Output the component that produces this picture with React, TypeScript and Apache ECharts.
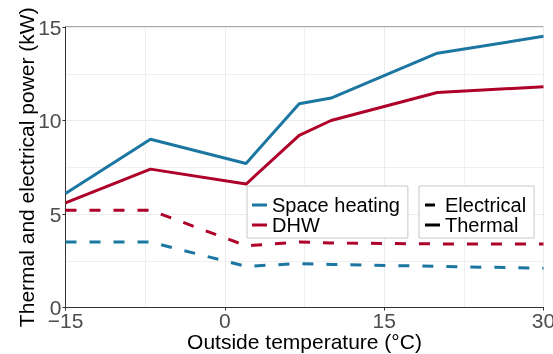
import React, { useEffect, useRef } from "react";
import * as echarts from "echarts";

// Outside temperature (°C) at which each operating point was evaluated
const temperatures = [-15, -7, 2, 7, 10, 20, 30];

// Thermal output (kW)
const spaceHeatingThermal = [6.1, 9.0, 7.7, 10.9, 11.2, 13.6, 14.5];
const dhwThermal = [5.6, 7.4, 6.6, 9.2, 10.0, 11.5, 11.8];

// Electrical input (kW)
const spaceHeatingElectrical = [3.5, 3.5, 2.2, 2.35, 2.3, 2.2, 2.1];
const dhwElectrical = [5.2, 5.2, 3.3, 3.5, 3.45, 3.4, 3.4];

const useLegend = ["Space heating", "DHW"];
const kindLegend = ["Electrical", "Thermal"];

const BLUE = "#1B77A1";
const RED = "#AE0029";
const FONT = "'Liberation Sans', Arial, Helvetica, sans-serif";
const DASH = [11, 13];

// Legend keys: a full-width bar, and a short bar padded to the same box
const SOLID_KEY = "path://M0,0H15V3H0Z";
const DASH_KEY = "path://M0,0H10V3H0Z M15,0V3";

const toPoints = (ys: number[]) => temperatures.map((t, i) => [t, ys[i]]);

export default function App() {
  const ref = useRef<HTMLDivElement>(null);

  useEffect(() => {
    if (!ref.current) return;
    const chart = echarts.init(ref.current, null, { renderer: "svg" });

    const axisCommon = {
      type: "value" as const,
      nameLocation: "middle" as const,
      nameMoveOverlap: false,
      nameTextStyle: { fontSize: 21, color: "#000", fontFamily: FONT },
      axisLine: { show: true, onZero: false, lineStyle: { color: "#333", width: 1 } },
      axisTick: { show: true, length: 3, lineStyle: { color: "#333", width: 1 } },
      splitLine: { show: true, lineStyle: { color: "#EBEBEB", width: 1 } },
      minorTick: { show: false, splitNumber: 2 },
      minorSplitLine: { show: true, lineStyle: { color: "#EFEFEF", width: 1 } },
    };

    const legendCommon = {
      orient: "vertical" as const,
      top: 186,
      itemGap: 0,
      itemWidth: 15,
      itemHeight: 3,
      symbolKeepAspect: false,
      borderColor: "#C8C8C8",
      borderWidth: 1,
      borderRadius: 0,
      backgroundColor: "#fff",
      selectedMode: false,
      itemStyle: { borderWidth: 0 },
      textStyle: { fontSize: 20, lineHeight: 20, color: "#000", fontFamily: FONT },
    };

    const line = (name: string, ys: number[], color: string, dashed: boolean) => ({
      name,
      type: "line" as const,
      data: toPoints(ys),
      symbol: "none",
      showSymbol: false,
      color,
      itemStyle: { color },
      lineStyle: { color, width: 3, type: dashed ? DASH : "solid" },
      z: 3,
    });

    chart.setOption({
      animation: false,
      textStyle: { fontFamily: FONT },
      grid: {
        left: 65.5,
        right: 9.5,
        top: 27,
        bottom: 46.5,
        containLabel: false,
        outerBoundsMode: "none",
        show: true,
        borderColor: "#555",
        borderWidth: 1,
        backgroundColor: "transparent",
      },
      xAxis: {
        ...axisCommon,
        min: -15,
        max: 30,
        interval: 15,
        name: "Outside temperature (°C)",
        nameGap: 23,
        axisLabel: {
          color: "#4D4D4D",
          fontSize: 21,
          margin: 2,
          fontFamily: FONT,
          formatter: (v: number) => String(v).replace("-", "\u2212"),
        },
      },
      yAxis: {
        ...axisCommon,
        min: 0,
        max: 15,
        interval: 5,
        name: "Thermal and electrical power (kW)",
        nameGap: 29,
        nameRotate: 90,
        axisLabel: { color: "#4D4D4D", fontSize: 21, margin: 4, fontFamily: FONT },
      },
      legend: [
        {
          ...legendCommon,
          data: useLegend.map((name) => ({ name, icon: SOLID_KEY })),
          left: 247,
          padding: [9, 8, 3, 5],
        },
        {
          ...legendCommon,
          data: kindLegend.map((name, i) => ({ name, icon: i === 0 ? DASH_KEY : SOLID_KEY })),
          left: 419,
          padding: [9, 8, 3, 6],
        },
      ],
      series: [
        line("Space heating", spaceHeatingThermal, BLUE, false),
        line("DHW", dhwThermal, RED, false),
        line("Space heating", spaceHeatingElectrical, BLUE, true),
        line("DHW", dhwElectrical, RED, true),
        // Key-only entries for the line style legend
        {
          name: "Electrical",
          type: "line",
          data: [],
          symbol: "none",
          color: "#000",
          itemStyle: { color: "#000" },
          lineStyle: { color: "#000", width: 3, type: DASH },
        },
        {
          name: "Thermal",
          type: "line",
          data: [],
          symbol: "none",
          color: "#000",
          itemStyle: { color: "#000" },
          lineStyle: { color: "#000", width: 3 },
        },
      ],
    });

    return () => chart.dispose();
  }, []);

  return (
    <div
      ref={ref}
      style={{ position: "fixed", left: 0, top: 0, width: 553, height: 354 }}
    />
  );
}
